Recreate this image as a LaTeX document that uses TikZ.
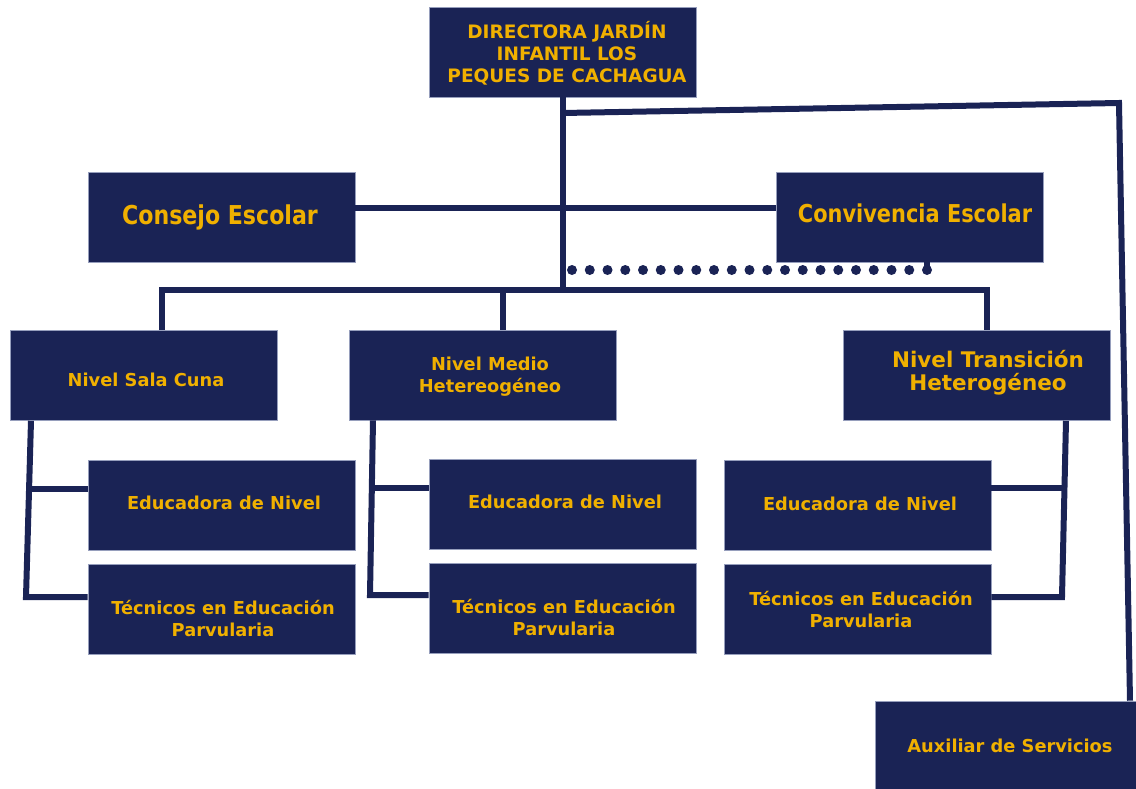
\documentclass[tikz,border=0pt]{standalone}
\usepackage{fontspec}
\setmainfont{DejaVu Sans}
\newfontfamily\condfont[FakeStretch=0.85]{DejaVu Sans}
\definecolor{navy}{RGB}{26,35,85}
\definecolor{gold}{RGB}{240,176,0}
\definecolor{edge}{RGB}{150,158,188}
\begin{document}
\begin{tikzpicture}[x=1pt,y=-1pt,
 box/.style={fill=navy, draw=edge, line width=0.6pt, inner sep=0pt, minimum width=267pt, minimum height=90pt},
 lbl/.style={text=gold, font=\bfseries\fontsize{17.8}{22}\selectfont, align=center, inner sep=0pt},
 lblbig/.style={text=gold, font=\bfseries\fontsize{21.5}{23}\selectfont, align=center, inner sep=0pt},
 lbldir/.style={text=gold, font=\bfseries\fontsize{18.5}{22}\selectfont, align=center, inner sep=0pt},
 big/.style={text=gold, font=\condfont\bfseries\fontsize{26}{30}\selectfont, inner sep=0pt},
 conn/.style={draw=navy, line width=6pt},
 dots/.style={draw=navy, line width=10pt, line cap=round, dash pattern=on 0pt off 17.75pt},
]
\useasboundingbox (0,0) rectangle (1136,789);
% boxes
\node[box] (dir) at (562.5,52) {};
\node[box] (consejo) at (221.5,217) {};
\node[box] (conv) at (909.5,217) {};
\node[box] (sala) at (143.5,375.5) {};
\node[box] (medio) at (482.5,375) {};
\node[box] (trans) at (976.5,375.5) {};
\node[box] (edL) at (221.5,505) {};
\node[box] (tecL) at (221.5,609) {};
\node[box] (edM) at (562.5,504) {};
\node[box] (tecM) at (562.5,608) {};
\node[box] (edR) at (857.5,505) {};
\node[box] (tecR) at (857.5,609) {};
\node[box] (aux) at (1008.5,746) {};
% texts
\node[lbldir] (tdir) at (567,53) {DIRECTORA JARDÍN\\INFANTIL LOS\\PEQUES DE CACHAGUA};
\node[big] (tconsejo) at (220,217) {Consejo Escolar};
\node[big,font=\condfont\bfseries\fontsize{24.6}{30}\selectfont] (tconv) at (915,213) {Convivencia Escolar};
\node[lbl] (tsala) at (146,380) {Nivel Sala Cuna};
\node[lbl] (tmedio) at (490,377) {Nivel Medio\\Hetereogéneo};
\node[lblbig] (ttrans) at (988,373) {Nivel Transición\\Heterogéneo};
\node[lbl] (tedL) at (224,503) {Educadora de Nivel};
\node[lbl] (ttecL) at (223,619) {Técnicos en Educación\\Parvularia};
\node[lbl] (tedM) at (565,502) {Educadora de Nivel};
\node[lbl] (ttecM) at (564,618) {Técnicos en Educación\\Parvularia};
\node[lbl] (tedR) at (860,504) {Educadora de Nivel};
\node[lbl] (ttecR) at (861,610) {Técnicos en Educación\\Parvularia};
\node[lbl] (taux) at (1010,746) {Auxiliar de Servicios};
% coordinates
\coordinate (trunk) at (563,290);
\coordinate (busL) at (162,290);
\coordinate (busR) at (987,290);
\coordinate (mtop) at (503,290);
\coordinate (cl) at (0,208);
\coordinate (r1) at (563,113);
\coordinate (r2) at (1119,103);
\coordinate (r3) at (1130,0);
\coordinate (la) at (31,0);
\coordinate (lb) at (26,597);
\coordinate (lc) at (29,489);
\coordinate (ma) at (373,0);
\coordinate (mb) at (370,595);
\coordinate (mc) at (372,488);
\coordinate (ra) at (1066,0);
\coordinate (rb) at (1062,597);
\coordinate (rc) at (1065,488);
\coordinate (d0) at (572,270);
\coordinate (d1) at (928,270);
\coordinate (dd) at (927,270);
% connectors
\draw[conn] (dir.south -| trunk) -- (trunk);
\draw[conn] (sala.north -| busL) -- (busL) -- (busR) -- (trans.north -| busR);
\draw[conn] (mtop) -- (medio.north -| mtop);
\draw[conn] (consejo.east |- cl) -- (conv.west |- cl);
\draw[conn] (r1) -- (r2) -- (aux.north -| r3);
\draw[conn] (sala.south -| la) -- (lb) -- (tecL.west |- lb);
\draw[conn] (lc) -- (edL.west |- lc);
\draw[conn] (medio.south -| ma) -- (mb) -- (tecM.west |- mb);
\draw[conn] (mc) -- (edM.west |- mc);
\draw[conn] (trans.south -| ra) -- (rb) -- (tecR.east |- rb);
\draw[conn] (rc) -- (edR.east |- rc);
\draw[dots] (d0) -- (d1);
\draw[conn] (dd) -- (conv.south -| dd);
\end{tikzpicture}
\end{document}
